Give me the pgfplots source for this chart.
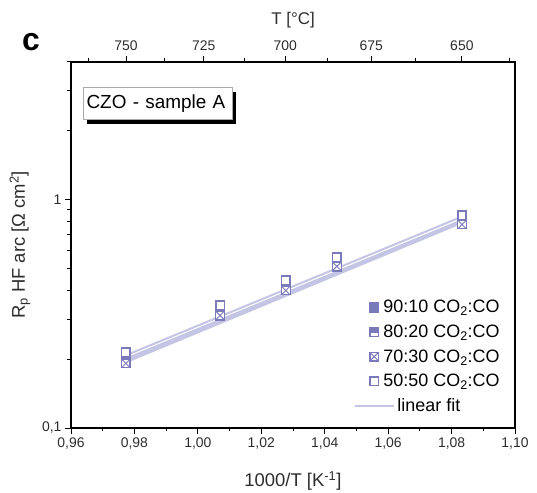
\documentclass[border=0pt]{standalone}
\usepackage{fontspec}
\setmainfont{Liberation Sans}
\usepackage{pgfplots}
\pgfplotsset{compat=1.18}
\usetikzlibrary{shadows,plotmarks}
\definecolor{markc}{RGB}{122,122,186}
\definecolor{fitc}{RGB}{196,196,228}
\definecolor{tickc}{RGB}{45,45,45}
\definecolor{boxline}{RGB}{170,170,170}

% square with upper part filled
\pgfdeclareplotmark{sqhalf}{%
  \pgfpathrectangle{\pgfqpoint{-\pgfplotmarksize}{-\pgfplotmarksize}}{\pgfqpoint{2\pgfplotmarksize}{2\pgfplotmarksize}}%
  \pgfusepathqfillstroke
  \pgfsetfillcolor{markc}%
  \pgfpathrectangle{\pgfqpoint{-\pgfplotmarksize}{-0.2\pgfplotmarksize}}{\pgfqpoint{2\pgfplotmarksize}{1.2\pgfplotmarksize}}%
  \pgfusepathqfill}
% square with a cross
\pgfdeclareplotmark{sqx}{%
  \pgfpathrectangle{\pgfqpoint{-\pgfplotmarksize}{-\pgfplotmarksize}}{\pgfqpoint{2\pgfplotmarksize}{2\pgfplotmarksize}}%
  \pgfusepathqfillstroke
  \pgfsetlinewidth{0.9bp}%
  \pgfpathmoveto{\pgfqpoint{-\pgfplotmarksize}{-\pgfplotmarksize}}\pgfpathlineto{\pgfqpoint{\pgfplotmarksize}{\pgfplotmarksize}}%
  \pgfpathmoveto{\pgfqpoint{-\pgfplotmarksize}{\pgfplotmarksize}}\pgfpathlineto{\pgfqpoint{\pgfplotmarksize}{-\pgfplotmarksize}}%
  \pgfusepathqstroke}

\pgfplotsset{
  frame/.style={scale only axis, width=444bp, height=366bp, at={(0,0)}, anchor=south west,
    xmin=0.96, xmax=1.10, tick align=outside,
    major tick length=6bp, minor tick length=3.5bp,
    every tick/.style={black, line width=1bp},
    axis line style={black, line width=1.3bp},
    ticklabel style={font=\fontsize{14}{16}\selectfont, text=tickc},
    label style={font=\fontsize{18.5}{21}\selectfont, text=tickc}},
  pts/.style={only marks, markc, line width=1.7bp, mark size=4.3bp,
    legend image code/.code={\draw[##1] plot coordinates {(0bp,0bp)};}},
  fitline/.style={fitc, line width=2bp, forget plot},
  fitlegend/.style={legend image code/.code={\draw[##1, overlay] (-19.5bp,0bp) -- (19.5bp,0bp);}},
}

\begin{document}
\begin{tikzpicture}
\useasboundingbox (-71bp,-65bp) rectangle (466bp,428bp);

% top axis in degrees C
\begin{axis}[frame,
  ymin=0, ymax=1,
  axis x line*=top, axis y line=none,
  xtick={0.97737,1.00185,1.02759,1.05469,1.08325},
  xticklabels={750,725,700,675,650},
  minor xtick={0.96558,0.98946,1.01456,1.04096,1.06878,1.09812},
  xticklabel style={yshift=2bp},
  xlabel={T [°C]},
  xlabel style={at={(axis description cs:0.5,1.115)}, anchor=center,
    font=\fontsize{17}{20}\selectfont},
]
\end{axis}

\begin{axis}[frame,
  ymode=log, ymin=0.1, ymax=4,
  tick pos=left,
  xtick={0.96,0.98,1.00,1.02,1.04,1.06,1.08,1.10},
  xticklabels={0{,}96,0{,}98,1{,}00,1{,}02,1{,}04,1{,}06,1{,}08,1{,}10},
  minor xtick={0.97,0.99,1.01,1.03,1.05,1.07,1.09},
  ytick={0.1,1}, yticklabels={0{,}1,1},
  minor ytick={0.2,0.3,0.4,0.5,0.6,0.7,0.8,0.9,2,3,4},
  xlabel={1000/T [K\textsuperscript{-1}]},
  ylabel={R\textsubscript{p} HF arc [Ω cm\textsuperscript{2}]},
  xlabel style={at={(axis description cs:0.5,-0.145)}, anchor=center},
  ylabel style={at={(axis description cs:-0.115,0.5)}, anchor=center},
  legend style={at={(axis description cs:0.666,0.36)}, anchor=north west,
    draw=none, fill=none, font=\fontsize{18}{20}\selectfont,
    row sep=6.6bp, column sep=3bp, nodes={inner sep=2bp}},
  legend cell align=left,
]
% linear fits
\addplot[fitline] coordinates {(0.9773,0.197) (1.0833,0.800)};
\addplot[fitline] coordinates {(0.9773,0.201) (1.0833,0.812)};
\addplot[fitline] coordinates {(0.9773,0.194) (1.0833,0.792)};
\addplot[fitline] coordinates {(0.9773,0.208) (1.0833,0.842)};

\addplot[pts, mark=square*, fill=markc] coordinates {
  (0.9773,0.195) (1.0070,0.310) (1.0277,0.405) (1.0438,0.505) (1.0833,0.780)};
\addlegendentry{90:10 CO\textsubscript{2}:CO}
\addplot[pts, mark=sqhalf, fill=white] coordinates {
  (0.9773,0.198) (1.0070,0.315) (1.0277,0.410) (1.0438,0.515) (1.0833,0.790)};
\addlegendentry{80:20 CO\textsubscript{2}:CO}
\addplot[pts, mark=sqx, fill=white] coordinates {
  (0.9773,0.192) (1.0070,0.311) (1.0277,0.400) (1.0438,0.510) (1.0833,0.778)};
\addlegendentry{70:30 CO\textsubscript{2}:CO}
\addplot[pts, mark=square*, fill=white] coordinates {
  (0.9773,0.215) (1.0070,0.344) (1.0277,0.443) (1.0438,0.558) (1.0833,0.851)};
\addlegendentry{50:50 CO\textsubscript{2}:CO}
\addlegendimage{fitc, line width=2bp, fitlegend}
\addlegendentry{\hspace{14bp}linear fit}

% sample label with drop shadow
\node[draw=boxline, line width=0.6bp, fill=white, anchor=north west,
  minimum width=149bp, minimum height=32bp, inner xsep=3.5bp, align=left,
  font=\fontsize{19}{21}\selectfont, text width=142bp,
  drop shadow={shadow xshift=4bp, shadow yshift=-5bp, fill=black, opacity=1}]
  at (rel axis cs:0.0265,0.9317) {CZO - sample A};
\end{axis}

\node[font=\bfseries\fontsize{32}{34}\selectfont] at (-40bp,385.5bp) {c};
\end{tikzpicture}
\end{document}
